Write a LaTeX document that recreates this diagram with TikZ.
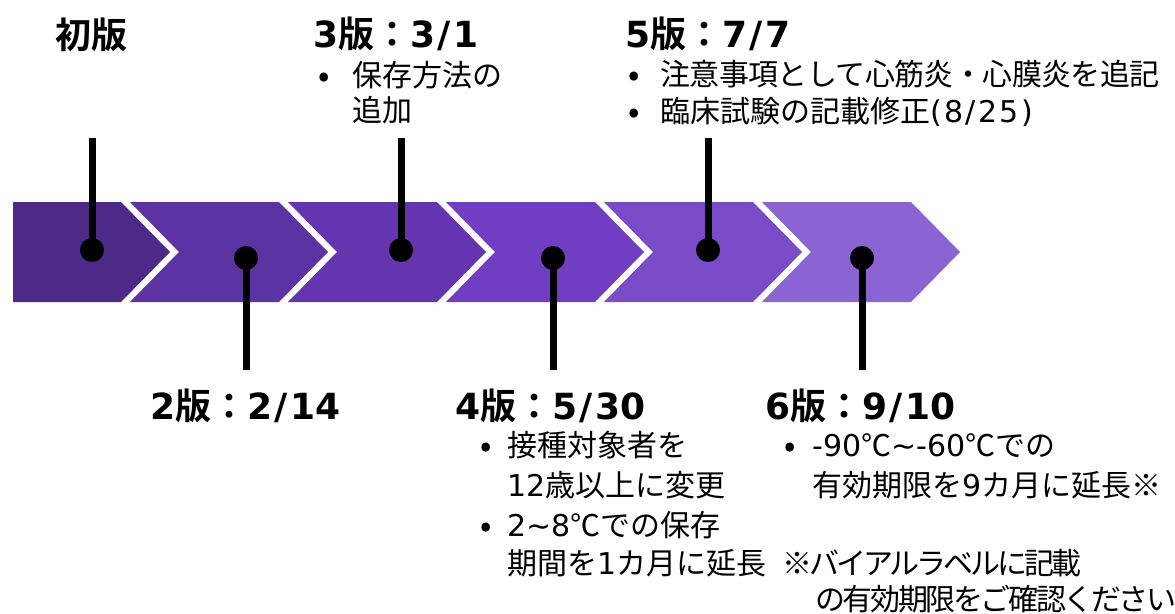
\documentclass[tikz,border=0pt]{standalone}
\usepackage{fontspec}
\newfontfamily\jp{Noto Sans CJK JP}[BoldFont={Noto Sans CJK JP Bold}]
\newfontfamily\dv{DejaVu Sans}
\newcommand\hdr[2]{{\dv\bfseries #1}{\jp\bfseries 版：}{\dv\bfseries #2}}
\newcommand\sls{\kern2.5pt/\kern2.5pt}
\newcommand\la[1]{{\dv #1}}
\newcommand\tld{{\dv\char"7E\relax}}
\definecolor{c1}{HTML}{4D2A87}
\definecolor{c2}{HTML}{5B33A3}
\definecolor{c3}{HTML}{6535B0}
\definecolor{c4}{HTML}{703DC3}
\definecolor{c5}{HTML}{7B4CC8}
\definecolor{c6}{HTML}{8B64D3}
\begin{document}
\begin{tikzpicture}[x=1pt,y=-1pt,
  hd/.style={font=\fontsize{36}{40}\selectfont, inner sep=0pt, anchor=west, text height=31pt, text depth=5pt},
  body/.style={font=\jp\fontsize{30}{34}\selectfont, inner sep=0pt, anchor=west, text height=26pt, text depth=4pt},
  bul/.style={body, font=\jp\bfseries\fontsize{30}{34}\selectfont},
  pin/.style={line width=7pt},
  dot/.style={circle, fill=black, minimum size=24pt, inner sep=0pt}]
\useasboundingbox (0,0) rectangle (1175,613);
% chevron band
\fill[c1] (13,202) -- (121,202) -- (170,252) -- (121,302) -- (13,302) -- cycle;
\fill[c2] (130,202) -- (279,202) -- (328,252) -- (279,302) -- (130,302) -- (179,252) -- cycle;
\fill[c3] (288,202) -- (437,202) -- (486,252) -- (437,302) -- (288,302) -- (337,252) -- cycle;
\fill[c4] (446,202) -- (595,202) -- (644,252) -- (595,302) -- (446,302) -- (495,252) -- cycle;
\fill[c5] (604,202) -- (753,202) -- (802,252) -- (753,302) -- (604,302) -- (653,252) -- cycle;
\fill[c6] (762,202) -- (911,202) -- (960,252) -- (911,302) -- (762,302) -- (811,252) -- cycle;
% pins
\node[dot] (d1) at (92,250) {};
\node[dot] (d2) at (246,258) {};
\node[dot] (d3) at (401,250) {};
\node[dot] (d4) at (553,258) {};
\node[dot] (d5) at (708,250) {};
\node[dot] (d6) at (862,258) {};
\coordinate (e1) at (92,138);
\coordinate (e2) at (246,370);
\coordinate (e3) at (401,138);
\coordinate (e4) at (553,370);
\coordinate (e5) at (708,138);
\coordinate (e6) at (862,370);
\foreach \i in {1,...,6} {\draw[pin] (d\i.center) -- (e\i);}
% headers
\node[hd] (v1) at (55,35) {\jp\bfseries 初版};
\node[hd] (v3) at (313,34) {\hdr{3}{3\sls 1}};
\node[hd] (v5) at (625,34) {\hdr{5}{7\sls 7}};
\node[hd] (v2) at (150,406) {\hdr{2}{2\sls 14}};
\node[hd] (v4) at (455,406) {\hdr{4}{5\sls 30}};
\node[hd] (v6) at (765,406) {\hdr{6}{9\sls 10}};
% version 3
\node[bul] (b3a) at (318,75) {•};
\node[body] (t3a) at (352,75) {保存方法の};
\node[body] (t3b) at (352,110) {追加};
% version 5
\node[bul] (b5a) at (628,74) {•};
\node[body] (t5a) at (660,74) {\addfontfeature{LetterSpace=-2}注意事項として心筋炎・心膜炎を追記};
\node[bul] (b5b) at (628,111) {•};
\node[body] (t5b) at (660,111) {臨床試験の記載修正{\dv\addfontfeature{LetterSpace=8}(8/25)}};
% version 4
\node[bul] (b4a) at (480,445) {•};
\node[body] (t4a) at (507,445) {接種対象者を};
\node[body] (t4b) at (507,485) {\la{12}歳以上に変更};
\node[bul] (b4b) at (480,525) {•};
\node[body] (t4c) at (507,525) {\la{2}\tld\la{8}℃での保存};
\node[body] (t4d) at (507,563) {期間を\la{1}カ月に延長};
% version 6
\node[bul] (b6a) at (784,445) {•};
\node[body] (t6a) at (812,445) {\la{-90}℃\tld\la{-60}℃での};
\node[body] (t6b) at (812,485) {有効期限を\la{9}カ月に延長※};
% note
\node[body] (n1) at (782,563) {\addfontfeature{LetterSpace=-10}※バイアルラベルに記載};
\node[body] (n2) at (815,599) {\addfontfeature{LetterSpace=-8}の有効期限をご確認ください};
\end{tikzpicture}
\end{document}
